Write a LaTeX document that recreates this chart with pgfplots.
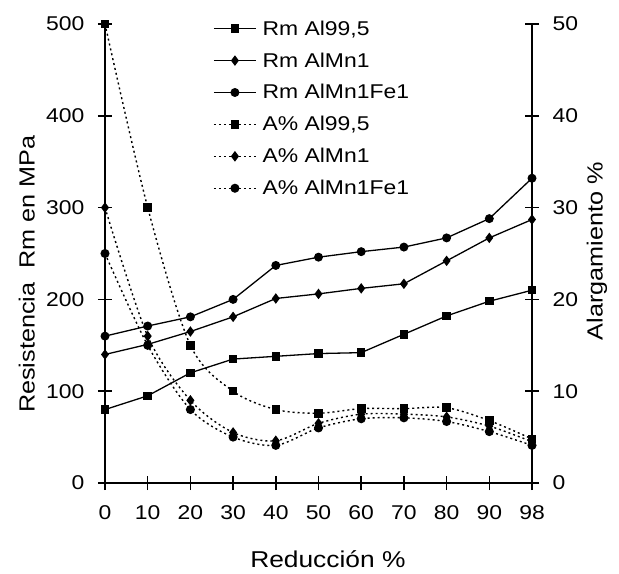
\documentclass[border=0pt]{standalone}
\usepackage{pgfplots}
\pgfplotsset{compat=1.18}
\usepackage{fontspec}
\setmainfont[FakeStretch=1.15]{Liberation Sans}

\pgfplotsset{
  common/.style={
    at={(0,0)}, anchor=origin,
    scale only axis, width=427bp, height=459bp,
    xmin=0, xmax=10, clip=false,
    tick align=center, major tick length=14bp,
    tick style={line width=1.6bp, black},
    /pgf/number format/assume math mode=true,
    tick label style={font=\fontsize{20}{24}\selectfont},
  },
  rmline/.style={line width=1.3bp, black, mark options={solid, fill=black}},
  aline/.style={line width=1.4bp, black, dash pattern=on 2bp off 3bp, mark options={solid, fill=black}},
}

\begin{document}
\begin{tikzpicture}
\path[use as bounding box] (-105bp,-91bp) rectangle (514bp,483bp);
\begin{axis}[
  common,
  ymin=0, ymax=500,
  axis x line=bottom, axis y line=left,
  axis line style={-, line width=2.2bp},
  xtick={0,...,10}, xticklabels={0,10,20,30,40,50,60,70,80,90,98},
  ytick={0,100,...,500},
  xticklabel style={yshift=-12bp},
  yticklabel style={xshift=-10bp},
  xlabel={Reducción \%},
  ylabel={Resistencia\ \ Rm en MPa},
  xlabel style={font=\fontsize{23}{27}\selectfont, at={(axis description cs:0.522,-0.165)}, anchor=center},
  ylabel style={font=\fontsize{22}{26}\selectfont, at={(axis description cs:-0.183,0.455)}, anchor=center},
  legend style={draw=none, fill=none, at={(0.253,1.012)}, anchor=north west,
    font=\fontsize{20}{24}\selectfont, inner sep=0pt, row sep=12bp,
    /tikz/every odd column/.append style={column sep=4bp}},
  legend cell align=left,
  legend image code/.code={\draw[mark repeat=2,mark phase=2,#1] plot coordinates {(0bp,0bp) (21bp,0bp) (42bp,0bp)};},
]
\addplot[rmline, mark=square*, mark size=3.6bp] coordinates {
(0,80) (1,95) (2,120) (3,135) (4,138) (5,141) (6,142) (7,162) (8,182) (9,198) (10,210)};
\addlegendentry{Rm Al99,5}
\addplot[rmline, mark=diamond*, mark size=4.2bp] coordinates {
(0,140) (1,151) (2,165) (3,181) (4,201) (5,206) (6,212) (7,217) (8,242) (9,267) (10,287)};
\addlegendentry{Rm AlMn1}
\addplot[rmline, mark=*, mark size=3.8bp] coordinates {
(0,160) (1,171) (2,181) (3,200) (4,237) (5,246) (6,252) (7,257) (8,267) (9,288) (10,332)};
\addlegendentry{Rm AlMn1Fe1}
\addlegendimage{aline, mark=square*, mark size=3.6bp}
\addlegendentry{A\% Al99,5}
\addlegendimage{aline, mark=diamond*, mark size=4.2bp}
\addlegendentry{A\% AlMn1}
\addlegendimage{aline, mark=*, mark size=3.8bp}
\addlegendentry{A\% AlMn1Fe1}
\end{axis}
\begin{axis}[
  common,
  ymin=0, ymax=50,
  axis x line=none, axis y line=right,
  axis line style={-, line width=2.2bp},
  ytick={0,10,...,50},
  yticklabel style={xshift=10bp},
  ylabel={Alargamiento \%},
  ylabel style={font=\fontsize{22}{26}\selectfont, at={(axis description cs:1.152,0.505)}, anchor=center, rotate=0},
]
\addplot[aline, smooth, mark=square*, mark size=3.6bp] coordinates {
(0,50) (1,30) (2,15) (3,10) (4,8) (5,7.6) (6,8.1) (7,8.1) (8,8.2) (9,6.8) (10,4.8)};
\addplot[aline, smooth, mark=diamond*, mark size=4.2bp] coordinates {
(0,30) (1,16) (2,9) (3,5.5) (4,4.6) (5,6.5) (6,7.5) (7,7.5) (8,7.2) (9,6.2) (10,4.5)};
\addplot[aline, smooth, mark=*, mark size=3.8bp] coordinates {
(0,25) (1,15) (2,8) (3,5) (4,4.1) (5,6.0) (6,7.0) (7,7.1) (8,6.7) (9,5.6) (10,4.1)};
\end{axis}
\end{tikzpicture}
\end{document}
